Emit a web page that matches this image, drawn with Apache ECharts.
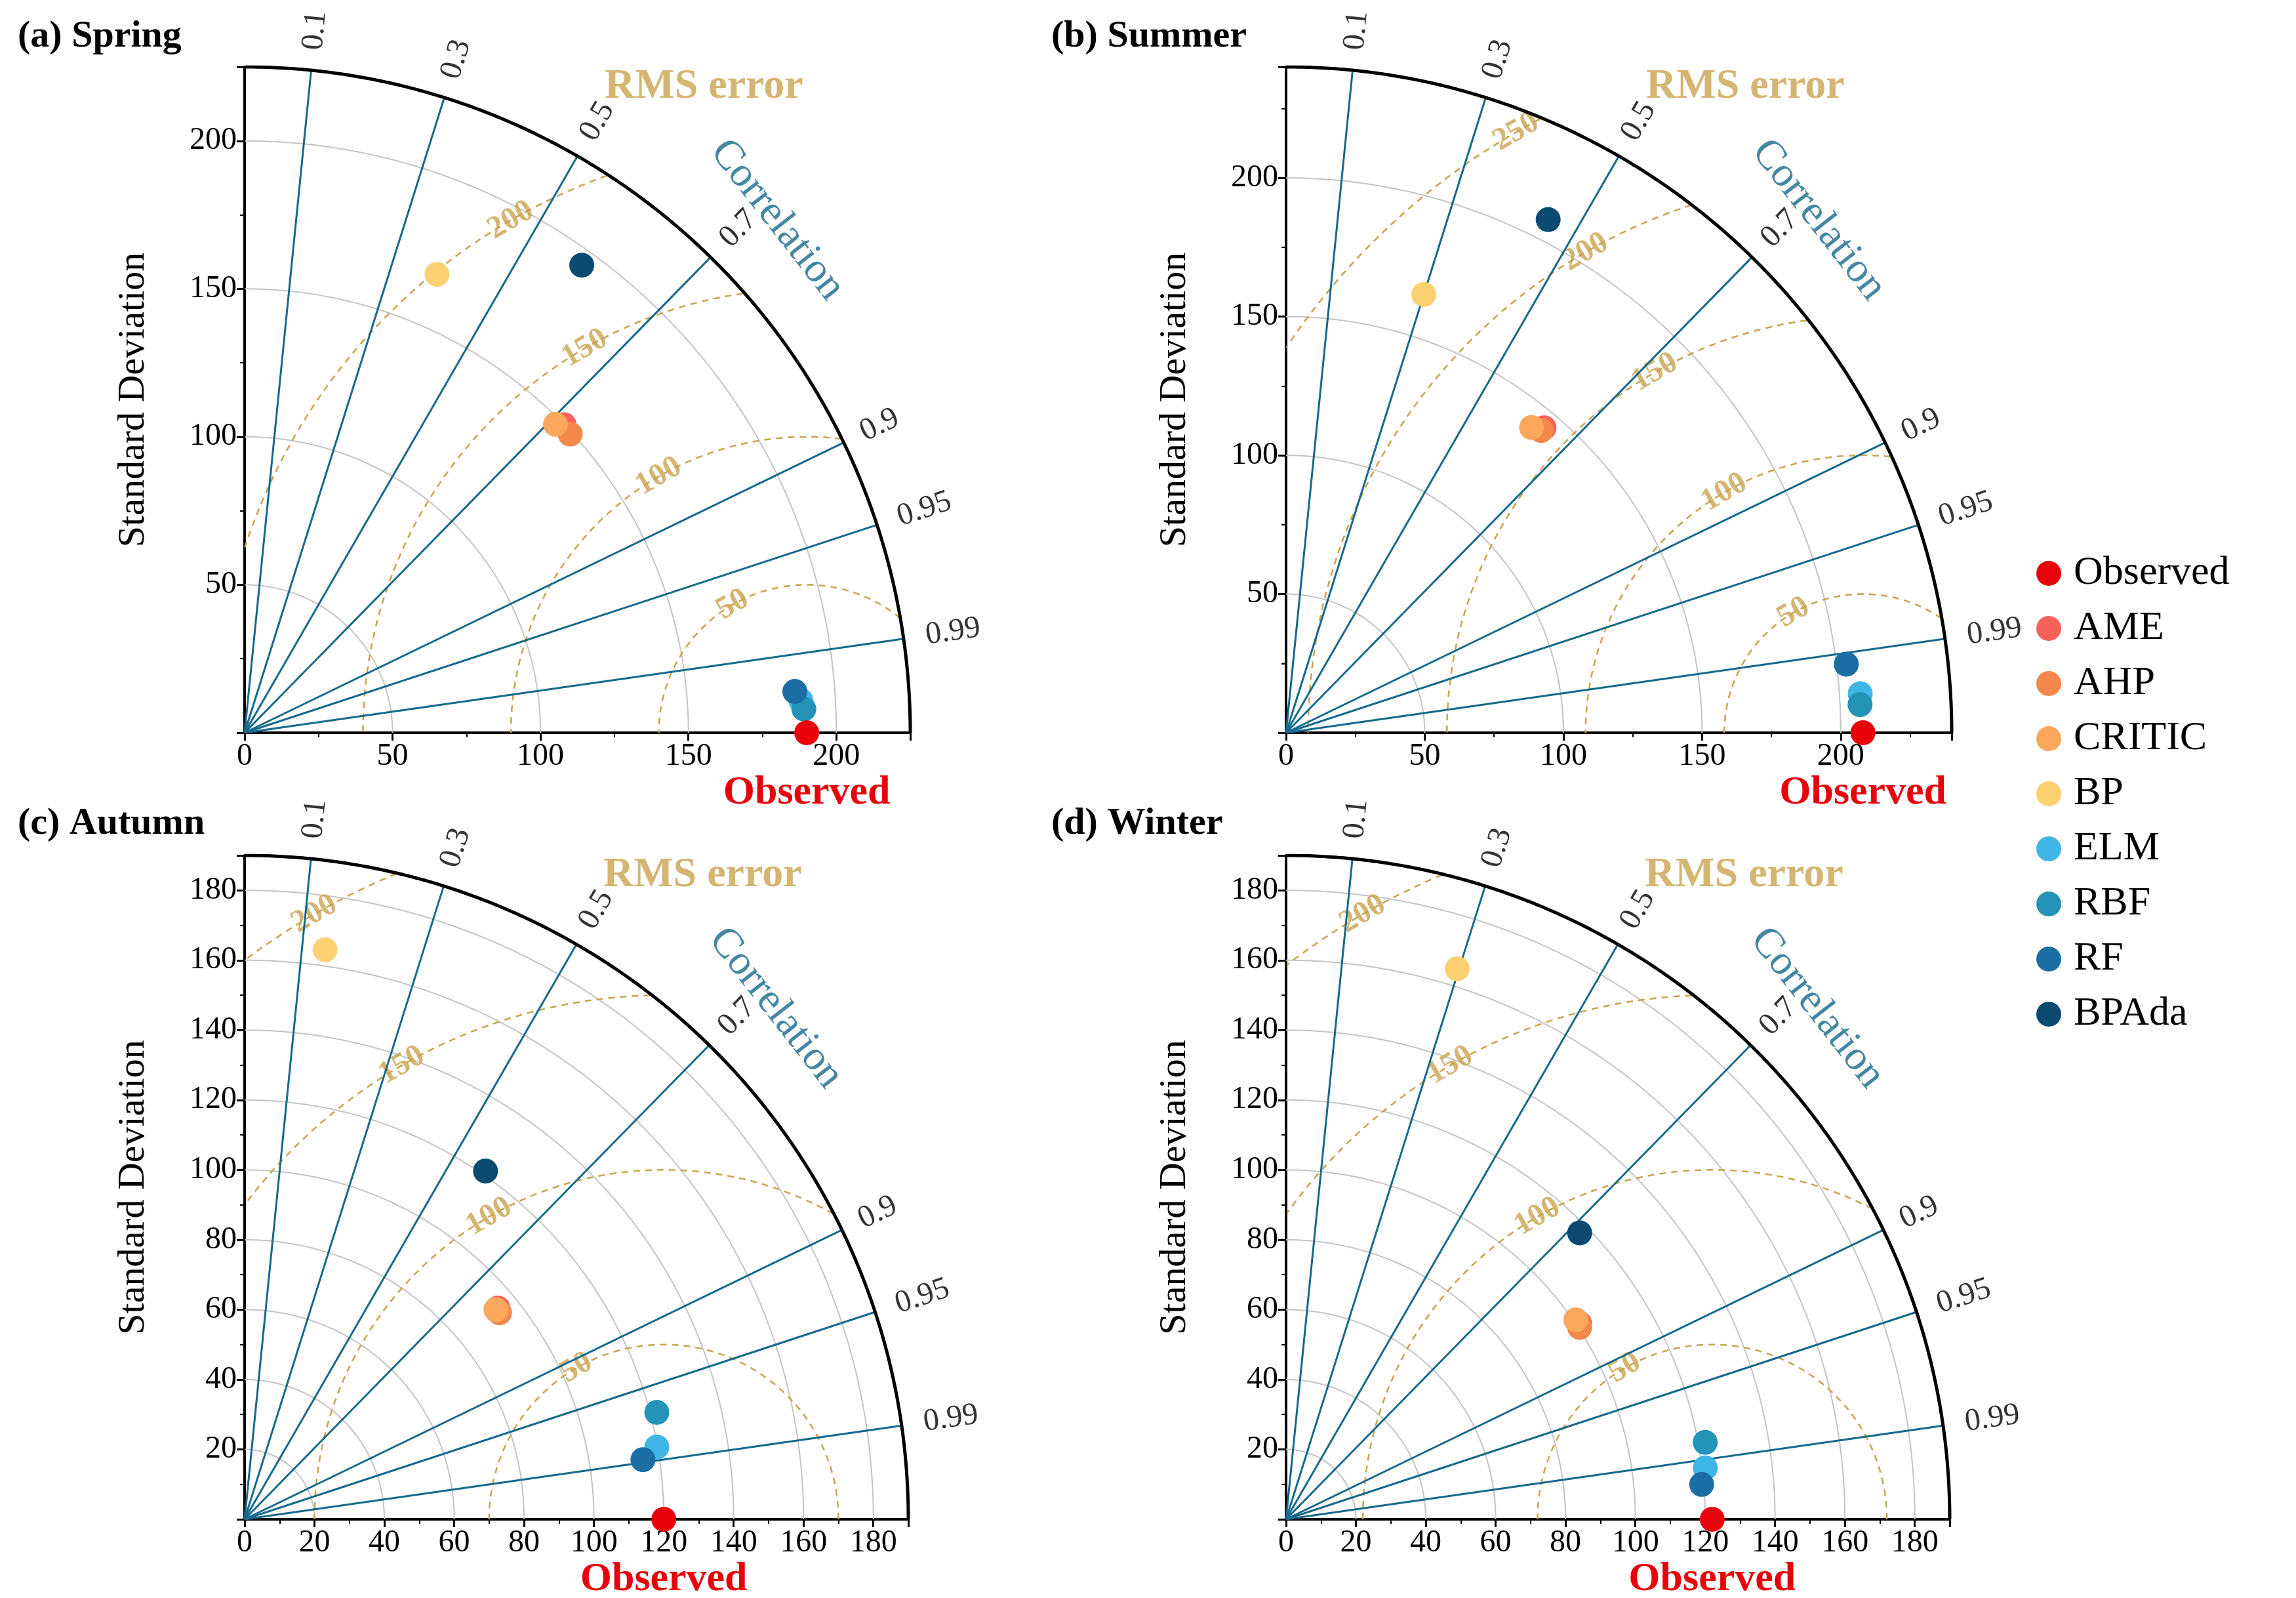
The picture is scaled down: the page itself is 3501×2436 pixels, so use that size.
<!DOCTYPE html>
<html><head><meta charset="utf-8">
<script src="https://cdn.jsdelivr.net/npm/echarts@6/dist/echarts.min.js"></script>
<style>html,body{margin:0;background:#fff}#chart{width:3501px;height:2436px}</style>
</head><body><div id="chart"></div>
<script>
var seasons = ['(a) Spring', '(b) Summer', '(c) Autumn', '(d) Winter'];
var rmax = [225, 240, 190, 190];
var step = [50, 50, 20, 20];
var observed = [190, 208, 120, 122];
var rmsLevels = [[50, 100, 150, 200], [50, 100, 150, 200, 250], [50, 100, 150, 200], [50, 100, 150, 200]];
var corrTicks = [0.1, 0.3, 0.5, 0.7, 0.9, 0.95, 0.99];

var models = ['AME', 'AHP', 'CRITIC', 'BP', 'ELM', 'RBF', 'RF', 'BPAda'];
var colors = ['#f4625a', '#f4874a', '#fba75c', '#fdd172', '#3fb6e6', '#2394b8', '#1a6ea4', '#0b4a70'];
// standard deviation and correlation per model, one row per season
var stdDev = [
  [150, 149.3, 148, 168, 188.3, 189.2, 186.5, 194.8],
  [144, 142.6, 141.2, 165.6, 207.5, 207.2, 203.5, 207.7],
  [94.4, 93.9, 93.7, 164.6, 119.8, 121.9, 115.3, 121.2],
  [101, 100.4, 100.7, 165, 120.9, 122, 119.4, 117.4]
];
var corr = [
  [0.72, 0.737, 0.71, 0.387, 0.9983, 0.9991, 0.9972, 0.585],
  [0.646, 0.645, 0.627, 0.30, 0.9977, 0.9988, 0.9926, 0.455],
  [0.768, 0.777, 0.768, 0.14, 0.985, 0.968, 0.989, 0.569],
  [0.832, 0.837, 0.824, 0.297, 0.9926, 0.9836, 0.9965, 0.716]
];

var FONT = 'Liberation Serif';
var GOLD = '#c9a24e', TEAL = '#16698c';
var grids = [
  {left: 373, top: 102, width: 1015, height: 1015},
  {left: 1961, top: 102, width: 1015, height: 1015},
  {left: 373, top: 1304, width: 1012, height: 1012},
  {left: 1961, top: 1304, width: 1012, height: 1012}
];
var xAxes = [], yAxes = [], series = [], titles = [];

function arc(R, cx, lim) {
  var pts = [];
  for (var t = 0; t <= 180; t += 0.25) {
    var a = t * Math.PI / 180;
    var x = cx + R * Math.cos(a), y = R * Math.sin(a);
    if (x >= 0 && y >= 0 && Math.sqrt(x * x + y * y) <= lim) pts.push([x, y]);
    else pts.push([null, null]);
  }
  return pts;
}
function textPoint(i, pos, text, style, rot) {
  return {type: 'scatter', xAxisIndex: i, yAxisIndex: i, symbolSize: 0, silent: true, clip: false,
    data: [{value: pos, label: {show: true, formatter: text, position: 'inside', rotate: rot || 0,
      fontFamily: FONT, fontWeight: style.weight || 'bold', fontSize: style.size, color: style.color}}]};
}

for (var i = 0; i < 4; i++) {
  var M = rmax[i], obs = observed[i];
  titles.push({text: seasons[i], left: i % 2 ? 1598 : 22, top: i < 2 ? 22 : 1222,
    textStyle: {fontFamily: FONT, fontWeight: 'bold', fontSize: 58, color: '#000'}});
  var ax = {gridIndex: i, type: 'value', min: 0, max: M, interval: step[i],
    axisLine: {lineStyle: {color: '#000', width: 4}},
    axisTick: {length: 12, lineStyle: {width: 3, color: '#000'}},
    minorTick: {show: true, splitNumber: 2, length: 7, lineStyle: {color: '#000', width: 2}},
    splitLine: {show: false},
    axisLabel: {fontFamily: FONT, fontSize: 48, color: '#000', showMaxLabel: false, margin: 12}};
  xAxes.push(ax);
  yAxes.push(Object.assign({}, ax, {axisLabel: Object.assign({}, ax.axisLabel, {showMinLabel: false}),
    name: 'Standard Deviation', nameLocation: 'middle', nameGap: 140,
    nameTextStyle: {fontFamily: FONT, fontSize: 58, color: '#000'}}));

  // std-dev arcs
  for (var s = step[i]; s < M; s += step[i]) {
    series.push({type: 'line', xAxisIndex: i, yAxisIndex: i, data: arc(s, 0, M + 1), showSymbol: false,
      silent: true, lineStyle: {color: '#c4c4c4', width: 2}, z: 1});
  }
  // outer arc
  series.push({type: 'line', xAxisIndex: i, yAxisIndex: i, data: arc(M, 0, M + 1), showSymbol: false,
    silent: true, lineStyle: {color: '#000', width: 5}, z: 5});
  // correlation rays and labels
  corrTicks.forEach(function (r) {
    var s2 = Math.sqrt(1 - r * r);
    series.push({type: 'line', xAxisIndex: i, yAxisIndex: i, data: [[0, 0], [M * r, M * s2]],
      showSymbol: false, silent: true, lineStyle: {color: TEAL, width: 3}, z: 3});
    var rr = M * (1 + (r > 0.9 ? 0.075 : 0.06));
    series.push(textPoint(i, [rr * r, rr * s2], String(r), {size: 48, color: '#000', weight: 'normal'},
      Math.acos(r) * 180 / Math.PI));
  });
  // RMS contours
  rmsLevels[i].forEach(function (R) {
    series.push({type: 'line', xAxisIndex: i, yAxisIndex: i, data: arc(R, obs, M), showSymbol: false,
      silent: true, lineStyle: {color: GOLD, width: 2.5, type: [10, 8]}, z: 2});
    var a = 120 * Math.PI / 180;
    series.push(textPoint(i, [obs + R * Math.cos(a), R * Math.sin(a)], String(R), {size: 48, color: GOLD}, 30));
  });
  series.push(textPoint(i, [0.69 * M, 0.97 * M], 'RMS error', {size: 64, color: GOLD}, 0));
  series.push(textPoint(i, [0.80 * M, 0.77 * M], 'Correlation', {size: 64, color: TEAL, weight: 'normal'}, -52));
  // models
  models.forEach(function (m, k) {
    var sd = stdDev[i][k], c = corr[i][k];
    series.push({name: m, type: 'scatter', xAxisIndex: i, yAxisIndex: i, symbolSize: 38, z: 10, clip: false,
      itemStyle: {color: colors[k], opacity: 1}, data: [[sd * c, sd * Math.sqrt(1 - c * c)]]});
  });
  series.push({name: 'Observed', type: 'scatter', xAxisIndex: i, yAxisIndex: i, symbolSize: 38, z: 11, clip: false,
    itemStyle: {color: '#e8000b', opacity: 1},
    data: [{value: [obs, 0], label: {show: true, formatter: 'Observed', position: 'bottom', distance: 42,
      fontFamily: FONT, fontWeight: 'bold', fontSize: 62, color: '#e8000b'}}]});
}

var chart = echarts.init(document.getElementById('chart'));
chart.setOption({
  backgroundColor: '#fff',
  animation: false,
  title: titles,
  grid: grids,
  xAxis: xAxes,
  yAxis: yAxes,
  legend: {data: ['Observed'].concat(models), orient: 'vertical', left: 3100, top: 838,
    itemWidth: 38, itemHeight: 38, itemGap: 22, icon: 'circle',
    textStyle: {fontFamily: FONT, fontSize: 62, color: '#000', padding: [0, 0, 0, 14]}},
  series: series
});
</script></body></html>
